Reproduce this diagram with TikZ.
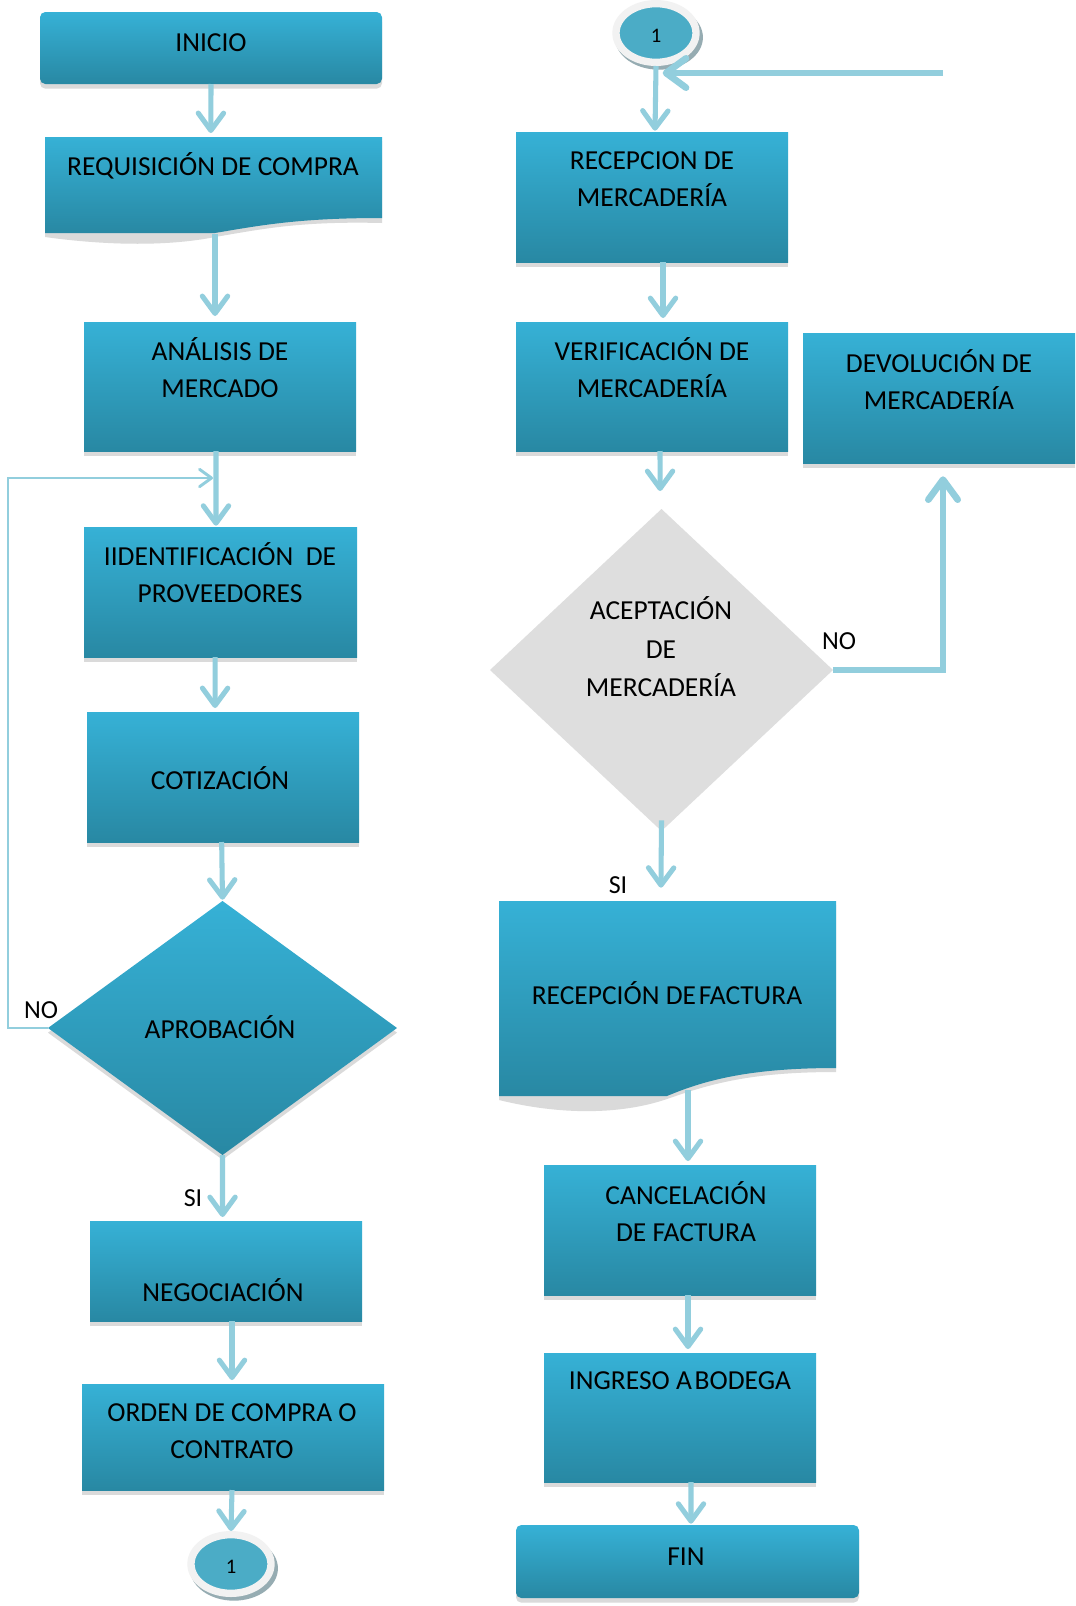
\documentclass[tikz,border=0pt]{standalone}
\usepackage{fontspec}
\setmainfont{Carlito}
\usetikzlibrary{arrows.meta,shapes.geometric,shadows,fit}
\definecolor{boxtop}{RGB}{54,177,214}
\definecolor{boxbot}{RGB}{40,136,163}
\definecolor{arrowc}{RGB}{146,206,221}
\definecolor{shadowc}{RGB}{218,218,218}
\definecolor{grayd}{RGB}{222,222,222}
\definecolor{ringc}{RGB}{242,242,242}
\definecolor{conninner}{RGB}{75,172,198}
\definecolor{connshadow}{RGB}{150,172,178}
\begin{document}
\begin{tikzpicture}[x=0.75pt,y=-0.75pt,
  shd/.style={drop shadow={shadow xshift=0pt,shadow yshift=-3.5pt,fill=shadowc,opacity=1}},
  procbox/.style={rectangle,inner sep=0pt,outer sep=0pt,top color=boxtop,bottom color=boxbot,shd},
  termbox/.style={procbox,rounded corners=4pt},
  decision/.style={diamond,inner sep=0pt,outer sep=0pt,top color=boxtop,bottom color=boxbot,shd},
  graydec/.style={diamond,inner sep=0pt,outer sep=0pt,fill=grayd},
  connector/.style={ellipse,inner sep=0pt,minimum width=60pt,minimum height=44pt,fill=conninner,draw=ringc,line width=5.5pt,font=\fontsize{15.5}{18}\selectfont,text height=14pt,text depth=0pt,drop shadow={shadow xshift=2pt,shadow yshift=-3pt,shadow scale=1.1,fill=connshadow,opacity=1}},
  txt/.style={inner sep=0pt,align=center,font=\fontsize{20.6}{27.75}\selectfont},
  yn/.style={inner sep=0pt,font=\fontsize{19.5}{22}\selectfont},
  arr/.style={draw=arrowc,line width=3.8pt,-{Straight Barb[length=13pt,width=19pt,round]},shorten >=3pt},
  arrthick/.style={draw=arrowc,line width=5pt,-{Straight Barb[length=15pt,width=22pt,round]}},
  fbarr/.style={draw=arrowc,line width=2.2pt,-{Straight Barb[length=9pt,width=13pt,round]}}
]
\useasboundingbox (0,0) rectangle (1075,1606);
\fill[white] (0,0) rectangle (1075,1606);

% ---------- left column ----------
\node[termbox,fit={(40,12) (382,84)}] (inicio) {};
\node[txt] (t-inicio) at (211,43) {INICIO};

\fill[shadowc] (45,141) -- (382,141) -- (382,223) .. controls (300,221) and (262,229) .. (215,237) .. controls (170,246) and (110,246) .. (45,237) -- cycle;
\path[top color=boxtop,bottom color=boxbot] (45,137) -- (382,137) -- (382,218) .. controls (300,218) and (262,225) .. (215,233) -- (45,233) -- cycle;
\node[inner sep=0pt,outer sep=0pt,fit={(45,137) (382,218)}] (req) {};
\coordinate (reqb) at (215,234);
\node[txt] (t-req) at (213,166) {REQUISICIÓN DE COMPRA};

\node[procbox,fit={(84,322) (356,451)}] (ana) {};
\node[txt] (t-ana) at (220,368) {ANÁLISIS DE\\MERCADO};

\node[procbox,fit={(84,527) (357,657)}] (iid) {};
\node[txt] (t-iid) at (220,573) {IIDENTIFICACIÓN~~DE\\PROVEEDORES};

\node[procbox,fit={(87,712) (359,842)}] (coti) {};
\node[txt] (t-coti) at (220,778) {COTIZACIÓN};

\node[decision,minimum width=261.75pt,minimum height=190.5pt] (aprob) at (222.5,1028) {};
\node[txt] (t-aprob) at (220,1027) {APROBACIÓN};

\node[yn] (no1) at (41,1010) {NO};
\node[yn] (si1) at (193,1198) {SI};

\node[procbox,fit={(90,1221) (362,1321)}] (neg) {};
\node[txt] (t-neg) at (223,1290) {NEGOCIACIÓN};

\node[procbox,fit={(82,1384) (384,1490)}] (orden) {};
\node[txt] (t-orden) at (232,1431) {ORDEN DE COMPRA O\\CONTRATO};

\node[connector] (c1) at (231,1564) {1};

\coordinate (fbcorner) at (8,478);
\coordinate (fbend) at (213,478);

% ---------- right column ----------
\node[connector] (c2) at (656,33) {1};
\coordinate (ret) at (943,73);

\node[procbox,fit={(516,132) (788,262)}] (recm) {};
\node[txt] (t-recm) at (652,179) {RECEPCION DE\\MERCADERÍA};

\node[procbox,fit={(516,322) (788,451)}] (verif) {};
\node[txt] (t-verif) at (652,368) {VERIFICACIÓN DE\\MERCADERÍA};

\node[graydec,minimum width=257.25pt,minimum height=241.5pt] (acept) at (661.5,670) {};
\node[txt,font=\fontsize{20.6}{28.9}\selectfont] (t-acept) at (661,647) {ACEPTACIÓN\\DE\\MERCADERÍA};

\node[yn] (no2) at (839,641) {NO};

\node[procbox,fit={(803,333) (1075,463)}] (dev) {};
\node[txt] (t-dev) at (939,380) {DEVOLUCIÓN DE\\MERCADERÍA};

\node[yn] (si2) at (618,885) {SI};

\fill[shadowc] (499,905) -- (836,905) -- (836,1072) .. controls (750,1072) and (710,1084) .. (667,1099) .. controls (620,1115) and (560,1115) .. (499,1100) -- cycle;
\path[top color=boxtop,bottom color=boxbot] (499,901) -- (836,901) -- (836,1068) .. controls (750,1068) and (705,1080) .. (667,1096) -- (499,1096) -- cycle;
\node[inner sep=0pt,outer sep=0pt,fit={(499,901) (836,1068)}] (recf) {};
\coordinate (recfb) at (688,1090);
\node[txt] (t-recf) at (667,993) {RECEPCIÓN DE\hspace{0.1em}FACTURA};

\node[procbox,fit={(544,1165) (816,1295)}] (canc) {};
\node[txt] (t-canc) at (686,1212) {CANCELACIÓN\\DE FACTURA};

\node[procbox,fit={(544,1353) (816,1482)}] (ing) {};
\node[txt] (t-ing) at (680,1381) {INGRESO A\hspace{0.1em}BODEGA};

\node[termbox,fit={(516,1525) (859,1598)}] (fin) {};
\node[txt] (t-fin) at (686,1557) {FIN};

% ---------- connectors ----------
\draw[arr] (inicio.south) -- ([xshift=-2pt]req.north);
\draw[arr,shorten >=4.5pt] (reqb) -- ([xshift=-3.75pt]ana.north);
\draw[arr,shorten >=1pt] ([xshift=-3pt]ana.south) -- ([xshift=-3.4pt]iid.north);
\draw[fbarr] (aprob.west) -| (fbcorner) -- (fbend);
\draw[arr] ([xshift=-4pt]iid.south) -- ([xshift=-6pt]coti.north);
\draw[arr,shorten >=1pt] ([xshift=-1pt]coti.south) -- (aprob.north);
\draw[arr] (aprob.south) -- ([xshift=-2.6pt]neg.north);
\draw[arr] ([xshift=4.5pt]neg.south) -- ([xshift=-0.75pt]orden.north);
\draw[arr,shorten >=0pt] ([xshift=-0.75pt]orden.south) -- (c1.north);

\draw[arr,shorten >=1pt] (c2.south) -- ([xshift=2.25pt]recm.north);
\draw[arrthick,shorten >=5pt] (ret) -- (ret -| c2.south);
\draw[arr] ([xshift=8.25pt]recm.south) -- ([xshift=8.25pt]verif.north);
\draw[arr,shorten >=13.5pt] ([xshift=6pt]verif.south) -- ([xshift=-1pt]acept.north);
\draw[arr,shorten >=10pt] ([yshift=8pt]acept.south) -- ([xshift=-5pt]recf.north);
\draw[arrthick,shorten >=10pt] (acept.east) -| ([xshift=3pt]dev.south);
\draw[arr] (recfb) -- ([xshift=6pt]canc.north);
\draw[arr] ([xshift=6pt]canc.south) -- ([xshift=6pt]ing.north);
\draw[arr,shorten >=1pt] ([xshift=8.25pt]ing.south) -- ([xshift=2.6pt]fin.north);
\end{tikzpicture}
\end{document}
